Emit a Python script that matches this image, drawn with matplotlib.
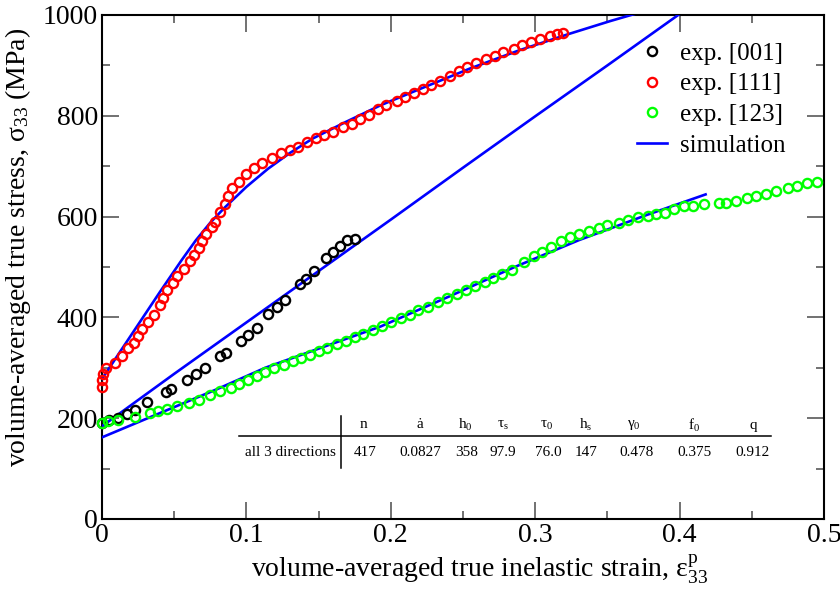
import numpy as np
import matplotlib
matplotlib.use("Agg")
import matplotlib.pyplot as plt
from matplotlib.ticker import MultipleLocator
from matplotlib.lines import Line2D

plt.rcParams['font.family'] = ['Liberation Serif', 'DejaVu Serif']
plt.rcParams['mathtext.fontset'] = 'custom'
plt.rcParams['mathtext.rm'] = 'Liberation Serif'
plt.rcParams['mathtext.it'] = 'Liberation Serif:italic'
plt.rcParams['mathtext.bf'] = 'Liberation Serif:bold'

# ---- experimental data: [001] ----
exp001_strain = [0.0, 0.005, 0.011, 0.017, 0.023, 0.031, 0.044, 0.048, 0.059, 0.065,
                 0.071, 0.082, 0.086, 0.096, 0.101, 0.107, 0.115, 0.121, 0.127, 0.137,
                 0.141, 0.147, 0.155, 0.160, 0.165, 0.170, 0.175]
exp001_stress = [191, 196, 200, 208, 216, 232, 251, 257, 276, 288,
                 299, 323, 330, 354, 366, 378, 406, 420, 434, 466,
                 476, 492, 518, 530, 542, 554, 556]

# ---- experimental data: [111] ----
exp111_strain = [0.0, 0.0, 0.001, 0.003, 0.009, 0.014, 0.018, 0.022, 0.025, 0.028,
                 0.032, 0.036, 0.040, 0.042, 0.045, 0.049, 0.052, 0.057, 0.061, 0.064,
                 0.067, 0.069, 0.072, 0.076, 0.078, 0.082, 0.085, 0.087, 0.090, 0.095,
                 0.100, 0.105, 0.111, 0.118, 0.124, 0.130, 0.136, 0.142, 0.148, 0.154,
                 0.160, 0.167, 0.173, 0.179, 0.185, 0.191, 0.197, 0.204, 0.210, 0.216,
                 0.222, 0.228, 0.234, 0.241, 0.247, 0.253, 0.259, 0.266, 0.272, 0.278,
                 0.285, 0.291, 0.297, 0.303, 0.310, 0.315, 0.319]
exp111_stress = [262, 276, 288, 300, 310, 323, 339, 350, 363, 376,
                 391, 405, 425, 438, 454, 468, 482, 497, 511, 524,
                 537, 552, 566, 579, 590, 610, 625, 640, 656, 669,
                 685, 696, 707, 717, 726, 732, 739, 749, 755, 762,
                 768, 777, 784, 793, 802, 813, 821, 829, 838, 846,
                 853, 862, 869, 879, 889, 897, 905, 912, 919, 926,
                 933, 940, 946, 952, 958, 963, 965]

# ---- experimental data: [123] ----
exp123_strain = [0.0, 0.004, 0.011, 0.023, 0.033, 0.039, 0.045, 0.052, 0.060, 0.067,
                 0.075, 0.082, 0.089, 0.095, 0.101, 0.107, 0.113, 0.119, 0.126, 0.132,
                 0.138, 0.144, 0.150, 0.156, 0.163, 0.169, 0.175, 0.181, 0.188, 0.194,
                 0.200, 0.207, 0.213, 0.219, 0.226, 0.233, 0.239, 0.246, 0.252, 0.258,
                 0.265, 0.271, 0.277, 0.284, 0.292, 0.299, 0.305, 0.311, 0.318, 0.324,
                 0.330, 0.337, 0.344, 0.350, 0.358, 0.364, 0.371, 0.378, 0.384, 0.390,
                 0.396, 0.403, 0.409, 0.417, 0.427, 0.432, 0.439, 0.447, 0.453, 0.460,
                 0.467, 0.475, 0.481, 0.488, 0.495]
exp123_stress = [191, 194, 196, 202, 210, 215, 218, 224, 231, 237,
                 246, 253, 259, 267, 276, 284, 292, 299, 306, 313,
                 320, 326, 333, 340, 347, 354, 361, 368, 375, 382,
                 390, 398, 405, 415, 421, 430, 438, 446, 454, 462,
                 471, 478, 486, 495, 509, 521, 530, 540, 552, 559,
                 565, 571, 577, 583, 588, 593, 599, 601, 605, 607,
                 615, 621, 622, 625, 627, 627, 630, 636, 640, 644,
                 651, 656, 661, 666, 669]

# ---- simulation curves ----
sim001_strain = [0.0, 0.05, 0.1, 0.15, 0.2, 0.25, 0.3, 0.35, 0.4]
sim001_stress = [184, 288, 390, 492, 594, 697, 799, 900, 1002]

sim111_strain = [0.0, 0.02, 0.04, 0.055, 0.065, 0.075, 0.085, 0.1, 0.115, 0.13,
                 0.146, 0.169, 0.193, 0.22, 0.255, 0.289, 0.324, 0.352, 0.37]
sim111_stress = [278, 364, 450, 513, 553, 588, 618, 659, 695, 726,
                 755, 788, 821, 853, 894, 930, 963, 988, 1003]

sim123_strain = [0.0, 0.02, 0.05, 0.08, 0.113, 0.15, 0.193, 0.24, 0.285, 0.33, 0.377, 0.418]
sim123_stress = [162, 186, 222, 258, 300, 338, 382, 441, 499, 553, 603, 644]

# ---- parameter table ----
param_names = ['n', 'ȧ', 'h$_0$', 'τ$_\\mathrm{s}$', 'τ$_0$', 'h$_\\mathrm{s}$',
               'γ$_0$', 'f$_0$', 'q']
param_values = ['417', '0.0827', '358', '97.9', '76.0', '147', '0.478', '0.375', '0.912']
row_label = 'all 3 directions'

fig = plt.figure(figsize=(8.4, 5.9), dpi=100)
ax = fig.add_axes([102 / 840, 71 / 590, 722 / 840, 504 / 590])

blue = '#0000ff'
mk = dict(linestyle='none', marker='o', markersize=6.6, markerfacecolor='none',
          markeredgewidth=1.7)

ax.plot(sim001_strain, sim001_stress, color=blue, lw=1.9, zorder=3)
ax.plot(sim111_strain, sim111_stress, color=blue, lw=1.9, zorder=3)
ax.plot(sim123_strain, sim123_stress, color=blue, lw=1.9, zorder=3)

ax.plot(exp001_strain, exp001_stress, markeredgecolor='black', zorder=4, clip_on=False, **mk)
ax.plot(exp111_strain, exp111_stress, markeredgecolor='#ff0000', zorder=4, clip_on=False, **mk)
ax.plot(exp123_strain, exp123_stress, markeredgecolor='#00ff00', zorder=4, clip_on=False, **mk)

ax.set_xlim(0, 0.5)
ax.set_ylim(0, 1000)
ax.xaxis.set_major_locator(MultipleLocator(0.1))
ax.xaxis.set_minor_locator(MultipleLocator(0.05))
ax.yaxis.set_major_locator(MultipleLocator(200))
ax.yaxis.set_minor_locator(MultipleLocator(100))
ax.set_xticks([0, 0.1, 0.2, 0.3, 0.4, 0.5])
ax.set_xticklabels(['0', '0.1', '0.2', '0.3', '0.4', '0.5'])
ax.tick_params(which='both', direction='in', top=True, right=True,
               color='0.35', labelsize=20, width=1.2)
ax.tick_params(which='major', length=12, pad=3)
ax.tick_params(which='minor', length=6)
for s in ax.spines.values():
    s.set_linewidth(1.5)

ax.set_xlabel('volume-averaged true inelastic strain, ε$^{\\mathrm{p}}_{33}$',
              fontsize=20)
ax.set_ylabel('volume-averaged true stress, σ$_{33}$ (MPa)', fontsize=20)
ax.xaxis.set_label_coords(0.5235, -0.066)
ax.yaxis.set_label_coords(-0.0956, 0.538)

handles = [
    Line2D([], [], markeredgecolor='black', **mk),
    Line2D([], [], markeredgecolor='#ff0000', **mk),
    Line2D([], [], markeredgecolor='#00ff00', **mk),
    Line2D([], [], color=blue, lw=1.9),
]
ax.legend(handles, ['exp. [001]', 'exp. [111]', 'exp. [123]', 'simulation'],
          loc='upper left', bbox_to_anchor=(0.727, 0.966), frameon=False,
          fontsize=18, handlelength=1.2, handletextpad=0.52, labelspacing=0.33,
          borderaxespad=0)

# parameter table drawn in figure pixel coordinates
W, H = 840, 590
def fx(p):
    return p / W
def fy(p):
    return 1 - p / H

name_x = [363, 420, 465, 503, 547, 586, 634, 694, 753]
val_x = [365, 420, 467, 503, 548, 586, 637, 695, 752]
for name, x in zip(param_names, name_x):
    fig.text(fx(x), fy(425), name, ha='center', va='center', fontsize=11)
for val, x in zip(param_values, val_x):
    fig.text(fx(x), fy(453), val, ha='center', va='center', fontsize=11)
fig.text(fx(290), fy(453), row_label, ha='center', va='center', fontsize=11)
fig.add_artist(Line2D([fx(239), fx(771)], [fy(436), fy(436)], color='black', lw=1.1))
fig.add_artist(Line2D([fx(341), fx(341)], [fy(416), fy(468)], color='black', lw=1.1))

fig.savefig('out.png', dpi=100)
